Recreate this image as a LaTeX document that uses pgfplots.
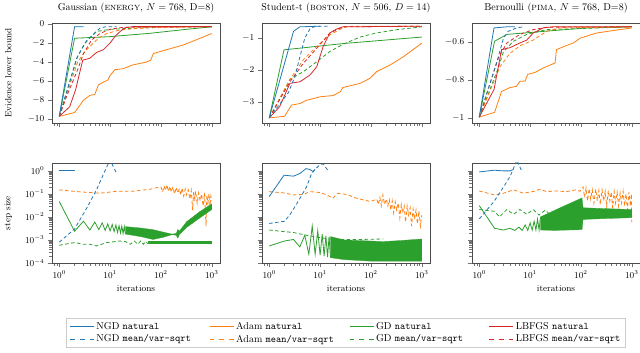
\documentclass[border=0pt]{standalone}
\usepackage{pgfplots}
\pgfplotsset{compat=1.18}
\usepgfplotslibrary{groupplots}
\definecolor{cblue}{HTML}{1F77B4}
\definecolor{corange}{HTML}{FF7F0E}
\definecolor{cgreen}{HTML}{2CA02C}
\definecolor{cred}{HTML}{D62728}
\tikzset{
  nat/.style={line width=0.8pt},
  mvs/.style={line width=0.8pt, dash pattern=on 3.5pt off 2.5pt},
  band/.style={fill=cgreen, draw=cgreen, line width=0.3pt},
}
\pgfplotsset{
  solidimg/.style={legend image code/.code={\draw[##1] (0pt,0pt) -- (24pt,0pt);}},
  dashimg/.style={legend image code/.code={\draw[##1] (0pt,0pt) -- (4.5pt,0pt) (9.5pt,0pt) -- (14.5pt,0pt) (19.5pt,0pt) -- (24pt,0pt);}},
}
\newcommand{\lt}[1]{\makebox[111pt][l]{#1}}
\begin{document}
\begin{tikzpicture}
\begin{groupplot}[
  group style={group size=3 by 2, horizontal sep=42pt, vertical sep=40pt},
  width=168pt, height=100pt, scale only axis,
  xmode=log, xmin=0.72, xmax=1450,
  tick align=outside, tick pos=left,
  axis line style={black!70}, every tick/.style={black!55},
  tick label style={font=\small}, label style={font=\small},
  ylabel style={at={(axis description cs:-0.26,0.5)}, anchor=center},
]
% ---------- top row: ELBO ----------
\nextgroupplot[title={Gaussian (\textsc{energy}, $N=768$, D=8)},
  ylabel={Evidence lower bound}, xticklabels={},
  ymin=-10.4, ymax=0.1, ytick={-10,-8,-6,-4,-2,0}]
\addplot[cgreen,nat] coordinates {(1,-9.7) (2,-1.5) (10,-1.33) (61,-0.98) (323,-0.56) (1000,-0.3)};
\addplot[cgreen,mvs] coordinates {(1,-9.7) (2.3,-3.4) (3.2,-2.0) (5.4,-0.8) (10,-0.56) (28,-0.45) (96,-0.35) (1000,-0.28)};
\addplot[corange,nat] coordinates {(1,-9.7) (2,-9.3) (3,-8.0) (4,-7.5) (5,-7.4) (5.9,-6.4) (7.4,-6.1) (9,-5.9) (10,-5.4) (12.5,-4.8) (18,-4.7) (28,-4.3) (52,-4.0) (63,-3.8) (71,-3.1) (130,-2.7) (278,-2.2) (590,-1.5) (1000,-1.0)};
\addplot[corange,mvs] coordinates {(1,-9.7) (2.3,-4.0) (3,-3.1) (3.9,-2.4) (5.9,-1.5) (8.6,-1.0) (15.6,-0.63) (38,-0.45) (130,-0.35) (1000,-0.28)};
\addplot[cred,nat] coordinates {(1,-9.7) (1.6,-8.7) (2.1,-6.9) (2.5,-5.2) (2.9,-3.8) (4,-3.6) (5.4,-3.0) (7.4,-2.7) (10,-2.0) (12.5,-1.3) (15.7,-0.8) (19.6,-0.4) (28,-0.28) (1000,-0.28)};
\addplot[cred,mvs] coordinates {(1,-9.7) (1.4,-7.6) (2.3,-4.8) (3,-3.1) (4.3,-1.7) (6.3,-1.0) (10,-0.56) (18,-0.35) (1000,-0.28)};
\addplot[cblue,mvs] coordinates {(1,-9.7) (2.2,-3.6) (3.5,-1.7) (6.3,-0.45) (8,-0.3) (13.5,-0.3)};
\addplot[cblue,nat] coordinates {(1,-9.7) (2,-0.3) (3,-0.3)};

\nextgroupplot[title={Student-t (\textsc{boston}, $N=506$, $D=14$)},
  xticklabels={}, ymin=-3.66, ymax=-0.53, ytick={-3,-2,-1}]
\addplot[cgreen,nat] coordinates {(1,-3.5) (1.95,-1.37) (30,-1.17) (1000,-0.97)};
\addplot[cgreen,mvs] coordinates {(1,-3.5) (2.55,-2.3) (4.7,-2.05) (8.6,-1.74) (15.6,-1.42) (28,-1.2) (61,-0.97) (130,-0.84) (320,-0.74) (1000,-0.65)};
\addplot[corange,nat] coordinates {(1,-3.5) (2,-3.45) (2.75,-3.1) (4,-3.05) (5.4,-2.95) (10,-2.84) (18,-2.8) (25,-2.68) (28,-2.55) (61,-2.42) (96,-2.26) (130,-2.05) (240,-1.84) (440,-1.58) (1000,-1.16)};
\addplot[corange,mvs] coordinates {(1,-3.5) (2.55,-2.3) (4.7,-1.68) (8.6,-1.26) (15.6,-0.9) (28,-0.68) (38,-0.63) (1000,-0.63)};
\addplot[cred,nat] coordinates {(1,-3.5) (1.6,-3.15) (2.55,-2.42) (4,-2.37) (6.3,-2.16) (8.6,-1.9) (11.5,-1.26) (15.6,-0.84) (21,-0.72) (28,-0.65) (1000,-0.63)};
\addplot[cred,mvs] coordinates {(1,-3.5) (2.55,-2.37) (4.7,-1.79) (8.6,-1.32) (15.6,-0.84) (28,-0.65) (1000,-0.63)};
\addplot[cblue,mvs] coordinates {(1,-3.5) (2.4,-2.7) (3.2,-2.2) (4,-1.6) (5,-1.0) (6.3,-0.72) (8,-0.63) (15,-0.63)};
\addplot[cblue,nat] coordinates {(1,-3.5) (3,-0.79) (4,-0.65) (10,-0.63)};

\nextgroupplot[title={Bernoulli (\textsc{pima}, $N=768$, D=8)},
  xticklabels={}, ymin=-1.026, ymax=-0.50, ytick={-1,-0.8,-0.6}]
\addplot[cgreen,nat] coordinates {(1,-0.995) (2,-0.596) (3.5,-0.56) (10,-0.55) (28,-0.54) (130,-0.526) (1000,-0.52)};
\addplot[cgreen,mvs] coordinates {(1,-0.995) (2.3,-0.745) (3,-0.65) (4.7,-0.596) (8.6,-0.56) (21,-0.535) (1000,-0.52)};
\addplot[corange,nat] coordinates {(1,-0.995) (2,-0.97) (2.75,-0.86) (4,-0.84) (5.4,-0.833) (6.3,-0.807) (8,-0.805) (9,-0.77) (12.5,-0.76) (18,-0.737) (31,-0.71) (33,-0.64) (50,-0.62) (71,-0.605) (96,-0.58) (200,-0.553) (420,-0.54) (1000,-0.526)};
\addplot[corange,mvs] coordinates {(1,-0.995) (2.55,-0.73) (4,-0.66) (6.3,-0.62) (11.5,-0.59) (21,-0.544) (38,-0.526) (1000,-0.52)};
\addplot[cred,nat] coordinates {(1,-0.995) (1.95,-0.85) (2.75,-0.64) (4,-0.63) (6.3,-0.605) (8.6,-0.59) (11.5,-0.553) (18,-0.526) (28,-0.52) (1000,-0.52)};
\addplot[cred,mvs] coordinates {(1,-0.995) (2.4,-0.68) (3.5,-0.605) (6.3,-0.56) (11.5,-0.535) (21,-0.522) (1000,-0.52)};
\addplot[cblue,mvs] coordinates {(1,-0.995) (2.3,-0.69) (3,-0.58) (3.7,-0.544) (5.4,-0.526) (7.4,-0.52)};
\addplot[cblue,nat] coordinates {(1,-0.995) (1.95,-0.526) (3.5,-0.52) (5,-0.52)};

% ---------- bottom row: step size ----------
\nextgroupplot[ymode=log, ymin=1e-4, ymax=2.2, ylabel={step size}, xlabel={iterations},
  ytick={1e-4,1e-3,1e-2,1e-1,1}]
\addplot[corange,mvs] coordinates {(1,0.15) (2.2,0.126) (6.3,0.107) (13.5,0.13) (28,0.13) (61,0.16) (96,0.2)
  (100,0.2) (108,0.12) (115,0.22) (123,0.14) (130,0.25) (140,0.13) (150,0.21) (160,0.12) (172,0.2) (185,0.1)
  (200,0.19) (215,0.11) (230,0.17) (245,0.09) (262,0.18) (280,0.08) (300,0.16) (320,0.09) (345,0.15) (370,0.06)
  (395,0.14) (420,0.02) (440,0.12) (460,0.05) (480,0.13) (515,0.04) (550,0.11) (590,0.05) (630,0.1) (675,0.03)
  (720,0.11) (770,0.004) (800,0.09) (840,0.04) (880,0.1) (920,0.03) (960,0.08) (1000,0.05)};
\addplot[cgreen,mvs] coordinates {(1,5.9e-4) (2,7.7e-4) (3,6.5e-4) (4,6.5e-4) (5.4,5.5e-4) (8.6,7.7e-4) (15.6,9e-4)
  (20,8.5e-4) (25,6.5e-4) (30,9e-4) (35,6.5e-4) (40,9e-4) (45,6.5e-4) (50,8.5e-4) (55,7e-4)};
\addplot[cgreen,line width=2.6pt] coordinates {(55,7.6e-4) (1000,7.6e-4)};
\addplot[cgreen,nat] coordinates {(1,0.047) (2,0.0024) (3,0.0065) (4,0.0027) (5,0.006) (6,0.0028) (7,0.0055)
  (8,0.0026) (9,0.005) (10,0.0025) (11,0.0047) (12,0.0023) (13,0.0045) (14,0.0021) (15,0.0042) (16,0.002)
  (17,0.004) (18,0.0019) (19,0.0038) (20,0.0018)};
\addplot[band] coordinates {(20,0.0038) (40,0.0033) (70,0.0028) (110,0.0022) (165,0.0018) (200,0.0019) (215,0.0029)
  (230,0.0024) (320,0.0062) (580,0.017) (1000,0.037) (1000,0.021) (580,0.009) (320,0.0035) (230,0.0017) (215,0.0012)
  (200,0.0016) (165,0.0017) (110,0.0013) (70,0.00105) (40,0.0014) (20,0.0018)};
\addplot[cblue,mvs] coordinates {(1,8e-4) (2,3e-3) (3.5,2.5e-2) (5.4,0.15) (8.6,1.5) (10,3) (13,0.9)};
\addplot[cblue,nat] coordinates {(1,1) (2,1)};

\nextgroupplot[ymode=log, ymin=1e-4, ymax=2.2, xlabel={iterations}, yticklabels={},
  ytick={1e-4,1e-3,1e-2,1e-1,1}]
\addplot[corange,mvs] coordinates {(1,0.126) (1.95,0.11) (3,0.09) (4.7,0.095) (6.3,0.126) (10,0.115) (13.5,0.09)
  (18,0.065) (22,0.107) (33,0.095) (52,0.065) (96,0.047) (120,0.055)
  (130,0.06) (140,0.035) (150,0.07) (160,0.03) (172,0.09) (185,0.035) (200,0.06) (215,0.03) (230,0.055) (245,0.02)
  (262,0.05) (280,0.015) (300,0.045) (320,0.02) (345,0.04) (370,0.009) (395,0.035) (420,0.015) (450,0.03)
  (480,0.006) (515,0.03) (550,0.012) (590,0.025) (630,0.004) (675,0.022) (720,0.008) (770,0.02) (820,0.005)
  (880,0.018) (940,0.004) (1000,0.012)};
\addplot[cgreen,mvs] coordinates {(1,2.7e-3) (3,2.1e-3) (5.4,1.6e-3) (10,1.26e-3) (15.6,1.1e-3) (28,1.05e-3) (61,1.05e-3) (175,1.1e-3)};
\addplot[cgreen,nat] coordinates {(1,5.5e-4) (2,9e-4) (3,1.05e-3) (4,5e-4) (5,1.6e-3) (6,2.4e-4) (7,4e-3) (8,2.4e-4)
  (9,2.5e-3) (10,2.2e-4) (11,1.8e-3) (12,2e-4) (13,1.5e-3) (14,1.8e-4) (15,1.4e-3) (16,1.7e-4)};
\addplot[band] coordinates {(16,1.4e-3) (30,1.0e-3) (100,9e-4) (175,8.5e-4) (400,9.5e-4) (1000,1.1e-3)
  (1000,1.2e-4) (100,1.2e-4) (30,1.4e-4) (16,1.7e-4)};
\addplot[cblue,mvs] coordinates {(1,5.2e-3) (2,6.5e-3) (2.55,0.0125) (3.7,0.047) (5.4,0.2) (6.8,0.77) (8.3,1.26) (10,1.9) (11.5,2.0) (14.5,1.0)};
\addplot[cblue,nat] coordinates {(1,0.077) (1.95,0.65) (3,0.59) (4,0.77) (5.3,1.26) (6.3,1.14) (7.2,0.95) (8,1.15)};

\nextgroupplot[ymode=log, ymin=1e-4, ymax=2.2, xlabel={iterations}, yticklabels={},
  ytick={1e-4,1e-3,1e-2,1e-1,1}]
\addplot[corange,mvs] coordinates {(1,0.134) (2,0.09) (3,0.107) (4.7,0.15) (7.4,0.107) (12,0.13) (15.6,0.16) (21,0.126)
  (33,0.134) (52,0.126) (80,0.15) (96,0.13)
  (110,0.2) (118,0.07) (126,0.18) (135,0.05) (145,0.17) (155,0.06) (167,0.15) (180,0.04) (195,0.16) (210,0.05)
  (225,0.14) (240,0.035) (260,0.15) (280,0.05) (300,0.13) (320,0.03) (345,0.14) (370,0.05) (395,0.12) (420,0.025)
  (450,0.13) (480,0.04) (515,0.12) (550,0.03) (590,0.11) (630,0.04) (675,0.13) (720,0.03) (770,0.1) (820,0.02)
  (880,0.12) (940,0.03) (980,0.1) (1000,0.006)};
\addplot[cgreen,mvs] coordinates {(1,0.021) (2,0.0175) (2.5,0.01) (3.5,0.021) (4.7,0.013) (6.3,0.021) (8.6,0.013)
  (11.5,0.021) (15,0.012) (20,0.02) (25,0.012) (30,0.018)};
\addplot[cgreen,nat] coordinates {(1,0.031) (2,3.2e-3) (3,2.7e-3) (4,3.2e-3) (5,2.6e-3) (6,3.6e-3) (7,2.6e-3) (8,4.5e-3)
  (9,2.6e-3) (10,5.5e-3) (11,2.7e-3) (12,6.5e-3) (13,2.7e-3) (14,8e-3) (15,2.7e-3) (16,1e-2)};
\addplot[band] coordinates {(16,0.01) (39,0.025) (105,0.067) (110,0.025) (300,0.023) (1000,0.021)
  (1000,0.0093) (300,0.0085) (110,0.0078) (105,0.0028) (30,0.0026) (16,0.0027)};
\addplot[cblue,mvs] coordinates {(1,8.2e-3) (1.95,0.047) (3,0.2) (4,0.55) (5,1.75) (5.5,3) (6.8,1.0)};
\addplot[cblue,nat] coordinates {(1,0.9) (1.95,1.07) (3,1.0) (4,1.0) (4.7,1.14)};
\end{groupplot}
% legend-only axis (its plots lie outside the visible range)
\begin{axis}[at={(group c2r2.south)}, anchor=north, yshift=-55pt, hide axis,
  scale only axis, width=20pt, height=4pt, xmin=0, xmax=1, ymin=0, ymax=1,
  legend columns=4, legend cell align=left,
  legend style={at={(0.5,1)}, anchor=north, draw=black!20, font=\normalsize,
    inner xsep=3pt, inner ysep=2pt}]
\addplot[solidimg, draw=cblue, line width=0.8pt] coordinates {(5,5) (6,5)}; \addlegendentry{\lt{NGD \texttt{natural}}}
\addplot[solidimg, draw=corange, line width=0.8pt] coordinates {(5,5) (6,5)}; \addlegendentry{\lt{Adam \texttt{natural}}}
\addplot[solidimg, draw=cgreen, line width=0.8pt] coordinates {(5,5) (6,5)}; \addlegendentry{\lt{GD \texttt{natural}}}
\addplot[solidimg, draw=cred, line width=0.8pt] coordinates {(5,5) (6,5)}; \addlegendentry{LBFGS \texttt{natural}}
\addplot[dashimg, draw=cblue, line width=0.8pt] coordinates {(5,5) (6,5)}; \addlegendentry{\lt{NGD \texttt{mean/var-sqrt}}}
\addplot[dashimg, draw=corange, line width=0.8pt] coordinates {(5,5) (6,5)}; \addlegendentry{\lt{Adam \texttt{mean/var-sqrt}}}
\addplot[dashimg, draw=cgreen, line width=0.8pt] coordinates {(5,5) (6,5)}; \addlegendentry{\lt{GD \texttt{mean/var-sqrt}}}
\addplot[dashimg, draw=cred, line width=0.8pt] coordinates {(5,5) (6,5)}; \addlegendentry{LBFGS \texttt{mean/var-sqrt}}
\end{axis}
\pgfresetboundingbox
\useasboundingbox ([xshift=-52pt,yshift=23pt]group c1r1.north west) rectangle ([yshift=-90pt]group c3r2.south east);
\end{tikzpicture}
\end{document}
